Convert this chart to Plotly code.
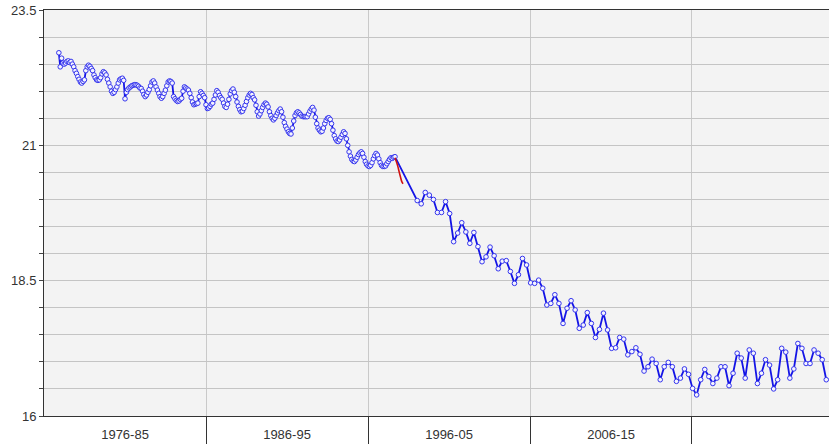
import pandas as pd
import plotly.graph_objects as go

# ---------------- data ----------------
# monthly series, Dec 1976 .. Sep 1997
monthly_start = "1976-12-01"
monthly_values = [
    22.71,
    22.45, 22.61, 22.52, 22.50, 22.52, 22.55, 22.56, 22.53, 22.55, 22.50, 22.45, 22.38,  # 1977
    22.33, 22.27, 22.22, 22.17, 22.15, 22.18, 22.21, 22.38, 22.45, 22.48, 22.46, 22.42,  # 1978
    22.38, 22.30, 22.25, 22.21, 22.20, 22.21, 22.25, 22.32, 22.36, 22.34, 22.30, 22.22,  # 1979
    22.15, 22.08, 22.00, 21.96, 21.98, 22.03, 22.08, 22.15, 22.21, 22.23, 22.24, 22.20,  # 1980
    21.86, 21.98, 22.03, 22.06, 22.08, 22.10, 22.11, 22.12, 22.12, 22.11, 22.09, 22.06,  # 1981
    22.05, 22.00, 21.94, 21.90, 21.93, 21.98, 22.03, 22.10, 22.17, 22.19, 22.15, 22.08,  # 1982
    22.02, 21.96, 21.90, 21.87, 21.90, 21.96, 22.02, 22.10, 22.17, 22.19, 22.18, 22.15,  # 1983
    21.90, 21.86, 21.83, 21.81, 21.82, 21.85, 21.87, 22.00, 22.08, 22.06, 22.04, 22.02,  # 1984
    21.96, 21.88, 21.80, 21.75, 21.76, 21.77, 21.78, 21.90, 21.99, 21.96, 21.92, 21.88,  # 1985
    21.75, 21.68, 21.69, 21.72, 21.76, 21.78, 21.85, 21.93, 22.01, 21.98, 21.92, 21.88,  # 1986
    21.85, 21.78, 21.72, 21.70, 21.76, 21.85, 21.95, 22.01, 22.04, 21.98, 21.90, 21.80,  # 1987
    21.72, 21.66, 21.62, 21.63, 21.68, 21.74, 21.81, 21.88, 21.93, 21.96, 21.94, 21.88,  # 1988
    21.84, 21.74, 21.62, 21.54, 21.58, 21.64, 21.70, 21.75, 21.78, 21.76, 21.71, 21.62,  # 1989
    21.55, 21.50, 21.47, 21.50, 21.55, 21.60, 21.64, 21.67, 21.62, 21.52, 21.42, 21.35,  # 1990
    21.30, 21.25, 21.22, 21.21, 21.32, 21.45, 21.55, 21.60, 21.62, 21.60, 21.57, 21.54,  # 1991
    21.53, 21.53, 21.53, 21.53, 21.58, 21.63, 21.67, 21.70, 21.65, 21.52, 21.40, 21.32,  # 1992
    21.28, 21.25, 21.26, 21.32, 21.40, 21.46, 21.50, 21.51, 21.48, 21.40, 21.28, 21.18,  # 1993
    21.12, 21.08, 21.07, 21.10, 21.15, 21.20, 21.25, 21.22, 21.12, 21.00, 20.88, 20.80,  # 1994
    20.74, 20.71, 20.70, 20.73, 20.78, 20.83, 20.86, 20.88, 20.85, 20.78, 20.70, 20.65,  # 1995
    20.62, 20.61, 20.63, 20.68, 20.75, 20.81, 20.85, 20.82, 20.75, 20.68, 20.63, 20.61,  # 1996
    20.61, 20.62, 20.66, 20.70, 20.74, 20.77, 20.76, 20.78, 20.79,                       # 1997
]

# quarterly series, 1999 Q1 onwards
quarterly_start = "1999-01-01"
quarterly_values = [
    19.98, 19.92, 20.13, 20.08, 20.00, 19.76, 19.76, 19.96, 19.74, 19.22,
    19.38, 19.57, 19.40, 19.19, 19.39, 19.13, 18.85, 18.94, 19.12, 18.96,
    18.72, 18.86, 18.87, 18.67, 18.45, 18.61, 18.91, 18.79, 18.46, 18.45,
    18.51, 18.36, 18.05, 18.08, 18.24, 18.08, 17.71, 17.99, 18.13, 17.96,
    17.62, 17.68, 17.91, 17.71, 17.45, 17.60, 17.90, 17.59, 17.25, 17.26,
    17.45, 17.42, 17.13, 17.19, 17.26, 17.14, 16.83, 16.91, 17.05, 16.97,
    16.67, 16.91, 16.99, 16.91, 16.64, 16.70, 16.87, 16.77, 16.51, 16.39,
    16.67, 16.86, 16.73, 16.60, 16.70, 16.91, 16.91, 16.56, 16.79, 17.16,
    17.07, 16.70, 17.22, 17.16, 16.60, 16.79, 17.04, 16.94, 16.50, 16.67,
    17.25, 17.18, 16.70, 16.87, 17.34, 17.25, 16.97, 16.97, 17.22, 17.16,
    17.04, 16.67,
]

# short red series
red_start = "1997-09-01"
red_values = [20.77, 20.70, 20.62, 20.52, 20.42, 20.33, 20.29]

# axis labels
band_edges = ["1986-01-01", "1996-01-01", "2006-01-01", "2016-01-01"]
band_centers = ["1981-01-01", "1991-01-01", "2001-01-01", "2011-01-01"]
band_labels = ["1976-85", "1986-95", "1996-05", "2006-15"]
y_ticks = [16 + 0.5 * i for i in range(16)]
y_major = [16, 18.5, 21, 23.5]
x_range = ["1976-01-01", "2024-06-16"]

# ---------------- build ----------------
m_dates = pd.date_range(monthly_start, periods=len(monthly_values), freq="MS")
q_dates = pd.date_range(quarterly_start, periods=len(quarterly_values), freq="QS") + pd.Timedelta(days=14)
r_dates = pd.date_range(red_start, periods=len(red_values), freq="MS")

blue_x = list(m_dates) + list(q_dates)
blue_y = monthly_values + quarterly_values

FONT = "Liberation Sans, Arial, sans-serif"

fig = go.Figure()
fig.add_trace(go.Scatter(
    x=blue_x, y=blue_y, mode="lines+markers",
    line=dict(color="#1414e6", width=1.8),
    marker=dict(symbol="circle", size=4.6, color="#f4f4ff",
                line=dict(color="#3535ee", width=1)),
    showlegend=False, hoverinfo="skip",
))
fig.add_trace(go.Scatter(
    x=r_dates, y=red_values, mode="lines",
    line=dict(color="#d01010", width=1.6, shape="spline"),
    showlegend=False, hoverinfo="skip",
))
fig.add_trace(go.Scatter(
    x=band_centers, y=[None] * len(band_centers), xaxis="x2",
    mode="markers", showlegend=False, hoverinfo="skip",
))

ticktext_y = [("%g" % v) if v in y_major else "" for v in y_ticks]

fig.update_layout(
    width=829, height=444,
    margin=dict(l=44, r=0, t=10, b=28, autoexpand=False),
    paper_bgcolor="white", plot_bgcolor="#f3f3f3",
    font=dict(family=FONT, size=13, color="#333333"),
    hovermode=False,
    xaxis=dict(
        type="date", range=x_range, automargin=False,
        tickmode="array", tickvals=band_edges, ticktext=[""] * len(band_edges),
        ticks="outside", ticklen=30, tickcolor="#333333", tickwidth=1,
        showgrid=True, gridcolor="#c9c9c9", gridwidth=1,
        showline=True, linecolor="#333333", linewidth=1, mirror=True,
        zeroline=False,
    ),
    xaxis2=dict(
        type="date", range=x_range, overlaying="x", anchor="y", side="bottom",
        automargin=False,
        tickmode="array", tickvals=band_centers, ticktext=band_labels,
        ticks="outside", ticklen=6, tickcolor="rgba(0,0,0,0)",
        showgrid=False, showline=False, zeroline=False,
        tickfont=dict(family=FONT, size=13, color="#333333"),
    ),
    yaxis=dict(
        range=[16, 23.5], automargin=False,
        tickmode="array", tickvals=y_ticks, ticktext=ticktext_y,
        ticks="outside", ticklen=4, tickcolor="#444444",
        showgrid=True, gridcolor="#c4c4c4", gridwidth=1,
        showline=True, linecolor="#333333", linewidth=1,
        zeroline=False,
        tickfont=dict(family=FONT, size=13, color="#333333"),
    ),
)

fig.write_html(
    "out.html",
    config={"displayModeBar": False, "staticPlot": True},
    post_script="document.body.style.margin='0';document.body.style.overflow='hidden';",
)
